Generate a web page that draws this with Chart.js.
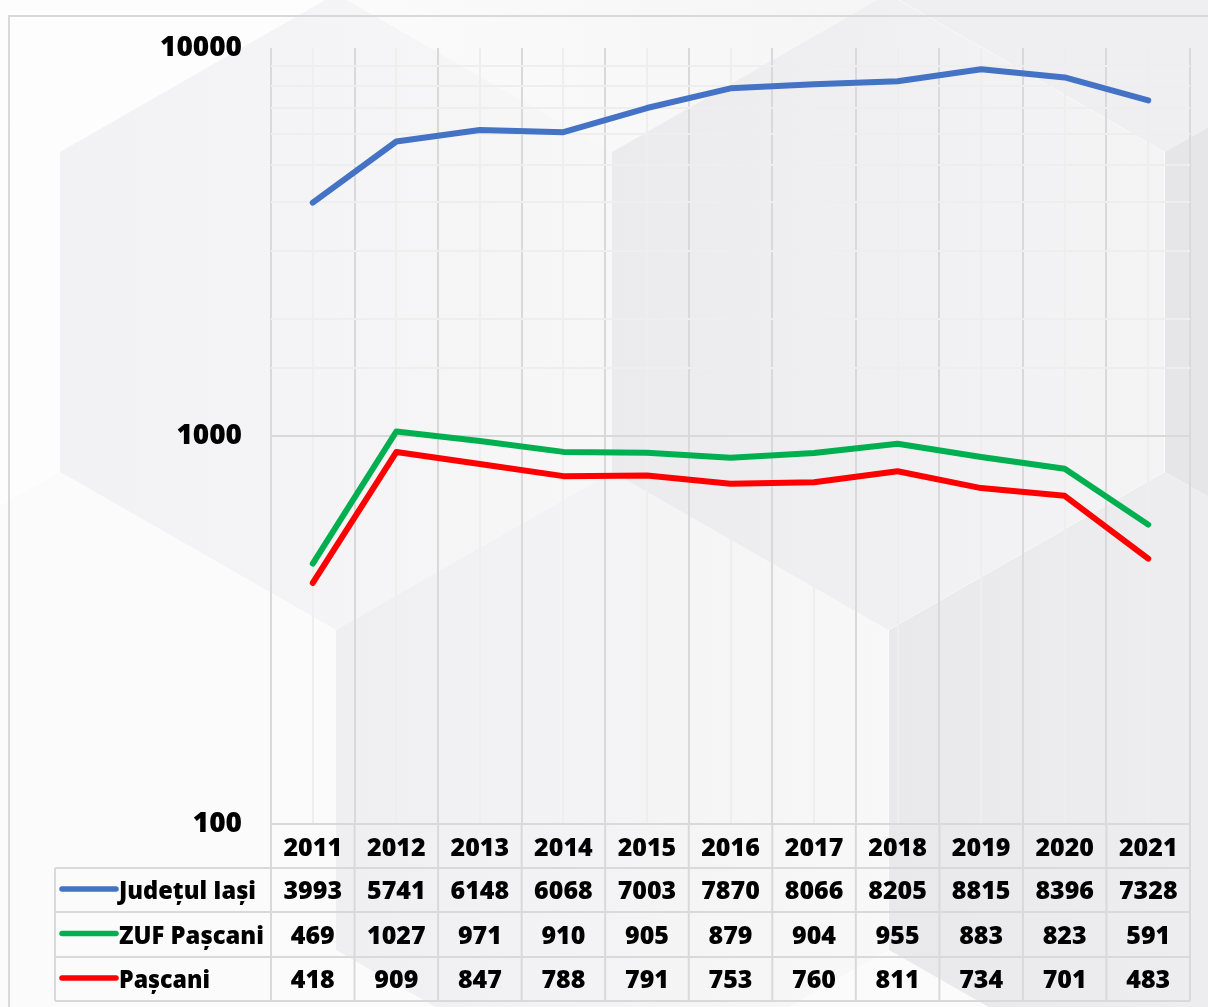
<!DOCTYPE html>
<html>
<head>
<meta charset="utf-8">
<script src="https://cdn.jsdelivr.net/npm/chart.js@4.4.0/dist/chart.umd.min.js"></script>
<style>
  html, body { margin: 0; padding: 0; background: #fbfbfb; }
  #wrap { width: 1208px; height: 1007px; }
  canvas { display: block; }
</style>
</head>
<body>
<div id="wrap"><canvas id="c" width="1208" height="1007"></canvas></div>
<script>
// ---- data ----
const years = ['2011','2012','2013','2014','2015','2016','2017','2018','2019','2020','2021'];
const judetulIasi = [3993, 5741, 6148, 6068, 7003, 7870, 8066, 8205, 8815, 8396, 7328];
const zufPascani  = [469, 1027, 971, 910, 905, 879, 904, 955, 883, 823, 591];
const pascani     = [418, 909, 847, 788, 791, 753, 760, 811, 734, 701, 483];
const seriesNames = ['Județul Iași', 'ZUF Pașcani', 'Pașcani'];
const yTickLabels = [100, 1000, 10000];

// ---- styles ----
const FONT = '"Open Sans", "Noto Sans", sans-serif';
const WEIGHT = '800';
const seriesColors = ['#4472C4', '#00B050', '#FF0000'];
const GRID_MAJOR = '#d9d9d9';
const GRID_MINOR = '#eeeeee';

const backgroundPlugin = {
  id: 'bg',
  beforeDraw(chart) {
    const ctx = chart.ctx;
    ctx.save();
    ctx.fillStyle = '#fbfbfb';
    ctx.fillRect(0, 0, chart.width, chart.height);
    const w = 276, h = 160, t = 318;
    function hex(cx, cy, fill) {
      ctx.beginPath();
      ctx.moveTo(cx, cy - t);
      ctx.lineTo(cx + w, cy - h);
      ctx.lineTo(cx + w, cy + h);
      ctx.lineTo(cx, cy + t);
      ctx.lineTo(cx - w, cy + h);
      ctx.lineTo(cx - w, cy - h);
      ctx.closePath();
      ctx.fillStyle = fill;
      ctx.fill();
    }
    function grad(cx, c1, c2) {
      const g = ctx.createLinearGradient(cx - w, 0, cx + w, 0);
      g.addColorStop(0, c1);
      g.addColorStop(1, c2);
      return g;
    }
    // row 0
    hex(60, -166, '#fdfdfd');
    hex(612, -166, grad(612, '#fbfbfb', '#f5f5f6'));
    hex(1165, -166, '#efeff1');
    // row 1
    hex(-216, 312, '#fdfdfd');
    hex(336, 312, grad(336, '#f2f2f4', '#f7f7f8'));
    hex(888, 312, grad(888, '#ebebee', '#f5f4f5'));
    hex(1441, 312, '#e6e6e9');
    // row 2
    hex(60, 790, '#fbfbfb');
    hex(612, 790, grad(612, '#efeff2', '#f8f8f8'));
    hex(1165, 790, grad(1165, '#e9e9ec', '#f1f1f3'));
    // outer frame
    ctx.strokeStyle = '#d9d9d9';
    ctx.lineWidth = 2;
    ctx.strokeRect(9, 16, 1400, 1200);
    ctx.restore();
  }
};

const tablePlugin = {
  id: 'dataTable',
  afterDraw(chart) {
    const ctx = chart.ctx;
    const xs = chart.scales.x;
    const area = chart.chartArea;
    const n = years.length;
    const centers = years.map((_, i) => xs.getPixelForValue(i));
    const bounds = [area.left];
    for (let i = 0; i < n - 1; i++) bounds.push((centers[i] + centers[i + 1]) / 2);
    bounds.push(area.right);

    const tableLeft = 55;
    const rowLines = [area.bottom, 868, 912, 957, 1001];
    const rows = [judetulIasi, zufPascani, pascani];
    const labelWidths = [137, 145, 91];

    ctx.save();
    ctx.strokeStyle = GRID_MAJOR;
    ctx.lineWidth = 2;
    ctx.beginPath();
    for (let r = 1; r < rowLines.length; r++) {
      ctx.moveTo(tableLeft, rowLines[r]);
      ctx.lineTo(area.right, rowLines[r]);
    }
    bounds.forEach(b => {
      ctx.moveTo(b, area.bottom);
      ctx.lineTo(b, rowLines[rowLines.length - 1]);
    });
    ctx.moveTo(tableLeft, rowLines[1]);
    ctx.lineTo(tableLeft, rowLines[rowLines.length - 1]);
    ctx.stroke();

    ctx.fillStyle = '#000';
    ctx.font = WEIGHT + ' 25px ' + FONT;
    ctx.textBaseline = 'alphabetic';
    ctx.textAlign = 'center';
    const hc = (rowLines[0] + rowLines[1]) / 2;
    years.forEach((y, i) => ctx.fillText(y, centers[i], hc + 9.5));
    rows.forEach((vals, r) => {
      const cy = (rowLines[r + 1] + rowLines[r + 2]) / 2;
      ctx.textAlign = 'center';
      vals.forEach((v, i) => ctx.fillText(String(v), centers[i], cy + 9));
      ctx.strokeStyle = seriesColors[r];
      ctx.lineWidth = 5.5;
      ctx.lineCap = 'round';
      ctx.beginPath();
      ctx.moveTo(62, cy - 1);
      ctx.lineTo(116, cy - 1);
      ctx.stroke();
      ctx.textAlign = 'left';
      ctx.fillText(seriesNames[r], 119, cy + 9, labelWidths[r]);
    });
    ctx.restore();
  }
};

function build() {
  const datasets = [judetulIasi, zufPascani, pascani].map((d, i) => ({
    label: seriesNames[i],
    data: d,
    borderColor: seriesColors[i],
    backgroundColor: seriesColors[i],
    borderWidth: 6,
    pointRadius: 0,
    pointHoverRadius: 0,
    borderCapStyle: 'round',
    borderJoinStyle: 'round',
    tension: 0,
    fill: false
  }));

  new Chart(document.getElementById('c'), {
    type: 'line',
    data: { labels: years, datasets },
    plugins: [backgroundPlugin, tablePlugin],
    options: {
      responsive: false,
      devicePixelRatio: 1,
      animation: false,
      layout: { padding: { top: 48, right: 18, bottom: 0, left: 0 } },
      plugins: { legend: { display: false }, tooltip: { enabled: false } },
      scales: {
        x: {
          type: 'category',
          offset: true,
          grid: { offset: true, color: GRID_MAJOR, lineWidth: 2, drawTicks: false },
          border: { display: true, color: GRID_MAJOR, width: 2 },
          ticks: { display: false },
          afterFit(s) { s.height = 1007 - 824; }
        },
        x2: {
          type: 'category',
          position: 'top',
          offset: true,
          grid: { offset: false, color: GRID_MINOR, lineWidth: 2, drawTicks: false },
          border: { display: false },
          ticks: { display: false },
          afterFit(s) { s.height = 0; }
        },
        y: {
          type: 'logarithmic',
          min: 100,
          max: 10000,
          border: { display: false },
          grid: {
            drawTicks: false,
            lineWidth: 2,
            color(c) {
              const v = c.tick && c.tick.value;
              if (v === 1000) return GRID_MAJOR;
              if (v > 1000 && v < 10000) return GRID_MINOR;
              return 'rgba(0,0,0,0)';
            }
          },
          ticks: {
            autoSkip: false,
            padding: 29,
            color: '#000',
            font: { family: FONT, weight: WEIGHT, size: 28 },
            callback(v) { return yTickLabels.includes(v) ? String(v) : ''; }
          },
          afterFit(s) { s.width = 271; }
        }
      }
    }
  });
}

if (document.fonts && document.fonts.load) {
  Promise.all([
    document.fonts.load(WEIGHT + ' 25px "Open Sans"'),
    document.fonts.load(WEIGHT + ' 28px "Open Sans"')
  ]).then(build, build);
} else {
  build();
}
</script>
</body>
</html>
